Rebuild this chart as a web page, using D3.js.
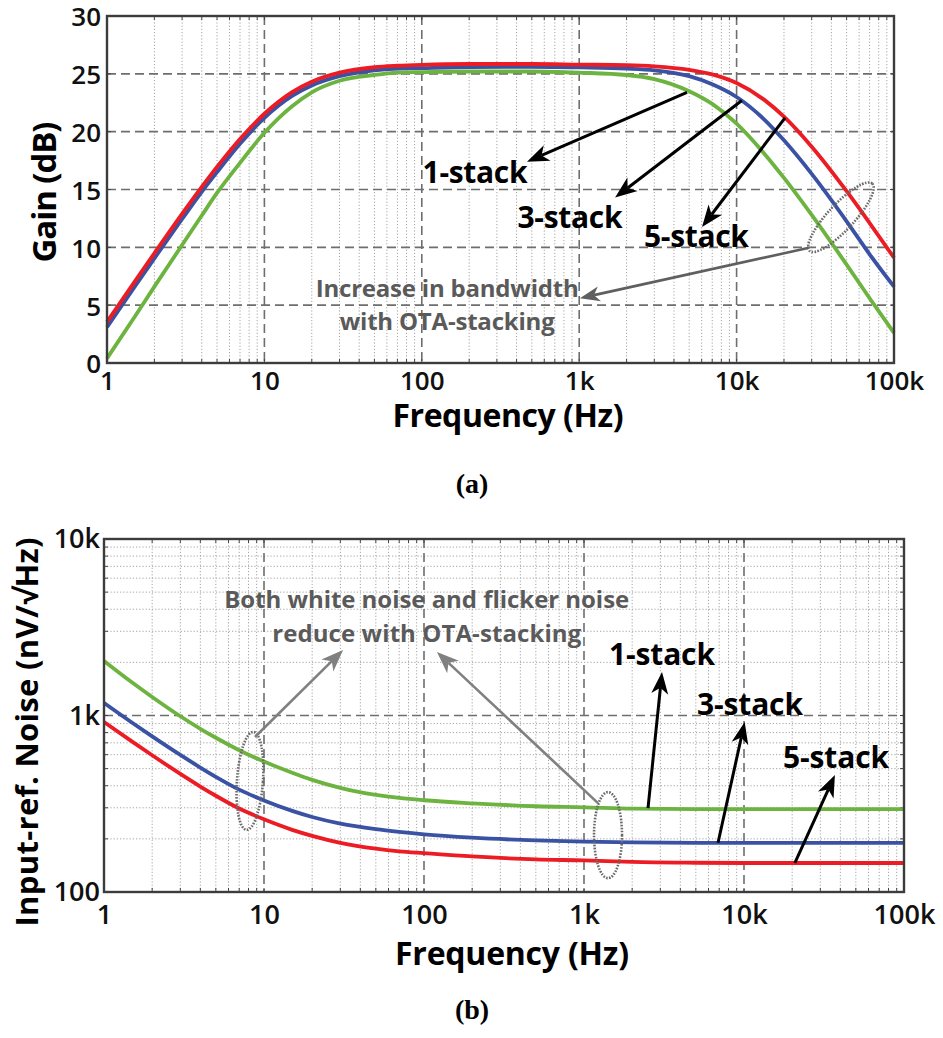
<!DOCTYPE html>
<html>
<head>
<meta charset="utf-8">
<script src="https://cdn.jsdelivr.net/npm/d3@7"></script>
<style>
  body { margin: 0; background: #fff; }
  text { font-family: "Open Sans", "Noto Sans", "DejaVu Sans", sans-serif; }
</style>
</head>
<body>
<script>
// ---- data: (a) gain ----
var gainFreq = [1, 1.5, 2, 3, 4, 5, 7, 10, 15, 20, 30, 50, 70, 100, 200, 500, 1000, 2000, 3000, 5000, 7000, 10000, 15000, 20000, 30000, 50000, 70000, 100000];
var gain1 = [0.4, 4.0, 6.6, 10.2, 12.75, 14.7, 17.3, 19.9, 22.2, 23.4, 24.4, 24.9, 25.1, 25.15, 25.2, 25.2, 25.1, 24.9, 24.55, 23.5, 22.4, 20.7, 18.1, 16.0, 12.8, 8.5, 5.6, 2.6];
var gain3 = [3.1, 6.6, 9.05, 12.45, 14.8, 16.5, 18.95, 21.2, 23.1, 24.0, 24.8, 25.3, 25.45, 25.5, 25.58, 25.6, 25.55, 25.45, 25.3, 24.8, 24.1, 23.0, 21.05, 19.25, 16.35, 12.25, 9.4, 6.6];
var gain5 = [3.55, 7.04, 9.49, 12.89, 15.22, 16.95, 19.37, 21.55, 23.42, 24.32, 25.1, 25.57, 25.7, 25.78, 25.85, 25.85, 25.8, 25.75, 25.65, 25.35, 24.95, 24.2, 22.75, 21.3, 18.7, 14.85, 12.1, 9.1];

// ---- data: (b) input-referred noise ----
var noiseFreq = [1, 1.5, 2, 3, 4, 5, 7, 10, 15, 20, 30, 50, 70, 100, 200, 500, 1000, 2000, 5000, 10000, 100000];
var noise1 = [2040, 1538, 1274, 990, 841, 748, 636, 548, 474, 432, 389, 355, 341, 331, 318, 306, 302, 297, 295, 295, 295];
var noise3 = [1178, 910, 762, 598, 507, 449, 380, 330, 288, 266, 244, 227, 219, 212, 203, 196, 193, 191, 190, 190, 190];
var noise5 = [919, 711, 595, 467, 396, 351, 297, 258, 225, 208, 190, 176, 170, 166, 159, 153, 151, 148, 146.5, 146, 146];

// ---- ticks ----
var freqTicks = [1, 10, 100, 1000, 10000, 100000];
var freqTickLabels = ["1", "10", "100", "1k", "10k", "100k"];
var gainTicks = [0, 5, 10, 15, 20, 25, 30];
var noiseTicks = [100, 1000, 10000];
var noiseTickLabels = ["100", "1k", "10k"];

var stackNames = ["1-stack", "3-stack", "5-stack"];
var colors = ["#6db33f", "#3a52a3", "#ec1c24"];

// annotation anchors, in data units
var gainArrowFrom = [[4840, 23.4], [10800, 22.7], [20300, 21.2]];
var gainArrowTo = [[466, 17.4], [1690, 14.3], [6030, 11.75]];
var gainLabelAt = [[218, 15.6], [874, 11.7], [5560, 10.0]];
var noiseArrowFrom = [[2512, 299], [6880, 190], [20800, 146]];
var noiseArrowTo = [[3073, 1762], [10100, 918], [37000, 460]];
var noiseLabelAt = [[3073, 1932], [10900, 1007], [37600, 505]];

var svg = d3.select("body").append("svg").attr("width", 943).attr("height", 1038);

// minor log positions 2..9 per decade
function logMinors(lo, hi) {
  var out = [];
  for (var d = lo; d < hi; d *= 10) {
    for (var k = 2; k <= 9; k++) out.push(d * k);
  }
  return out;
}

function vline(g, x, y0, y1, cls) {
  var l = g.append("line").attr("x1", x).attr("x2", x).attr("y1", y0).attr("y2", y1);
  styleGrid(l, cls);
}
function hline(g, y, x0, x1, cls) {
  var l = g.append("line").attr("x1", x0).attr("x2", x1).attr("y1", y).attr("y2", y);
  styleGrid(l, cls);
}
function styleGrid(l, cls) {
  if (cls === "major") {
    l.attr("stroke", "#6e6e6e").attr("stroke-width", 1.6).attr("stroke-dasharray", "9,5");
  } else {
    l.attr("stroke", "#a4a4a4").attr("stroke-width", 1).attr("stroke-dasharray", "1.2,2");
  }
}

function arrow(g, p1, p2, color, lw, hl, hw) {
  var dx = p2[0] - p1[0], dy = p2[1] - p1[1], len = Math.hypot(dx, dy);
  var ux = dx / len, uy = dy / len, nx = -uy, ny = ux;
  var bx = p2[0] - ux * hl, by = p2[1] - uy * hl;
  var mx = p2[0] - ux * hl * 0.72, my = p2[1] - uy * hl * 0.72;
  g.append("line")
    .attr("x1", p1[0]).attr("y1", p1[1]).attr("x2", mx).attr("y2", my)
    .attr("stroke", color).attr("stroke-width", lw);
  g.append("path")
    .attr("d", "M" + p2[0] + "," + p2[1] +
      "L" + (bx + nx * hw / 2) + "," + (by + ny * hw / 2) +
      "L" + mx + "," + my +
      "L" + (bx - nx * hw / 2) + "," + (by - ny * hw / 2) + "Z")
    .attr("fill", color);
}

function ellipse(g, c, rx, ry, rot) {
  g.append("ellipse")
    .attr("cx", c[0]).attr("cy", c[1]).attr("rx", rx).attr("ry", ry)
    .attr("transform", "rotate(" + rot + "," + c[0] + "," + c[1] + ")")
    .attr("fill", "none").attr("stroke", "#6a6a6a")
    .attr("stroke-width", 2.6).attr("stroke-dasharray", "1.6,1.4");
}

function frameTicks(g, x, y, xs, ys, len) {
  var x0 = x.range()[0], x1 = x.range()[1], y0 = y.range()[0], y1 = y.range()[1];
  xs.forEach(function (v) {
    g.append("line").attr("x1", x(v)).attr("x2", x(v)).attr("y1", y0).attr("y2", y0 - len).attr("stroke", "#444");
    g.append("line").attr("x1", x(v)).attr("x2", x(v)).attr("y1", y1).attr("y2", y1 + len).attr("stroke", "#444");
  });
  ys.forEach(function (v) {
    g.append("line").attr("x1", x0).attr("x2", x0 + len).attr("y1", y(v)).attr("y2", y(v)).attr("stroke", "#444");
    g.append("line").attr("x1", x1).attr("x2", x1 - len).attr("y1", y(v)).attr("y2", y(v)).attr("stroke", "#444");
  });
}

function styleAxis(ax, size) {
  ax.select(".domain").remove();
  ax.selectAll(".tick line").remove();
  ax.selectAll("text")
    .attr("fill", "#111")
    .style("font-size", size + "px")
    .style("font-weight", 600)
    .style("font-family", '"Open Sans", "Noto Sans", sans-serif');
}

// ================= (a) Gain =================
(function () {
  var g = svg.append("g");
  var x = d3.scaleLog().domain([1, 1e5]).range([107, 894]);
  var y = d3.scaleLinear().domain([0, 30]).range([363, 16]);

  logMinors(1, 1e5).forEach(function (v) { vline(g, x(v), 16, 363, "minor"); });
  freqTicks.slice(1, -1).forEach(function (v) { vline(g, x(v), 16, 363, "major"); });
  gainTicks.slice(1, -1).forEach(function (v) { hline(g, y(v), 107, 894, "major"); });
  frameTicks(g, x, y, logMinors(1, 1e5).concat(freqTicks), gainTicks, 4);

  var line = d3.line().x(function (d) { return x(d[0]); }).y(function (d) { return y(d[1]); }).curve(d3.curveMonotoneX);
  [gain1, gain3, gain5].forEach(function (s, i) {
    g.append("path")
      .datum(gainFreq.map(function (f, j) { return [f, s[j]]; }))
      .attr("d", line).attr("fill", "none")
      .attr("stroke", colors[i]).attr("stroke-width", 3.8)
      .attr("stroke-linejoin", "round");
  });

  g.append("rect").attr("x", 107).attr("y", 16).attr("width", 787).attr("height", 347)
    .attr("fill", "none").attr("stroke", "#3c3c3c").attr("stroke-width", 2.4);

  var ax = g.append("g").attr("transform", "translate(0,363)")
    .call(d3.axisBottom(x).tickValues(freqTicks).tickSize(0).tickPadding(9)
      .tickFormat(function (d, i) { return freqTickLabels[i]; }));
  styleAxis(ax, 26);
  var ay = g.append("g").attr("transform", "translate(107,0)")
    .call(d3.axisLeft(y).tickValues(gainTicks).tickSize(0).tickPadding(6));
  styleAxis(ay, 26);
  ay.selectAll("text").attr("dy", "0.38em");

  g.append("text").attr("x", 508).attr("y", 427).attr("text-anchor", "middle")
    .style("font-size", "32px").style("font-weight", 700).attr("textLength", 231)
    .text("Frequency (Hz)");
  g.append("text").attr("transform", "translate(44,192) rotate(-90)").attr("dy", "0.35em")
    .attr("text-anchor", "middle").style("font-size", "33px").style("font-weight", 700)
    .attr("textLength", 141).text("Gain (dB)");

  // annotations
  var P = function (d) { return [x(d[0]), y(d[1])]; };
  stackNames.forEach(function (n, i) {
    arrow(g, P(gainArrowFrom[i]), P(gainArrowTo[i]), "#000", 3, 22, 17);
    var at = P(gainLabelAt[i]);
    g.append("text").attr("x", at[0]).attr("y", at[1]).attr("text-anchor", "middle")
      .style("font-size", "30px").style("font-weight", 700).attr("textLength", 105).text(n);
  });
  ellipse(g, P([46000, 12.6]), 46, 13, -47);
  arrow(g, P([28400, 9.94]), P([1010, 5.6]), "#5f5f5f", 2.6, 20, 15);
  var t1 = P([145, 5.7]), t2 = P([145, 2.85]);
  g.append("text").attr("x", t1[0]).attr("y", t1[1]).attr("text-anchor", "middle").attr("fill", "#5a5a5a")
    .style("font-size", "24px").style("font-weight", 700).attr("textLength", 263).text("Increase in bandwidth");
  g.append("text").attr("x", t2[0]).attr("y", t2[1]).attr("text-anchor", "middle").attr("fill", "#5a5a5a")
    .style("font-size", "24px").style("font-weight", 700).attr("textLength", 215).text("with OTA-stacking");

  svg.append("text").attr("x", 472).attr("y", 493).attr("text-anchor", "middle")
    .style("font-family", '"Liberation Serif", "Times New Roman", serif')
    .style("font-size", "28px").style("font-weight", 700).text("(a)");
})();

// ================= (b) Noise =================
(function () {
  var g = svg.append("g");
  var x = d3.scaleLog().domain([1, 1e5]).range([104, 904]);
  var y = d3.scaleLog().domain([100, 10000]).range([892, 539]);

  logMinors(1, 1e5).forEach(function (v) { vline(g, x(v), 539, 892, "minor"); });
  logMinors(100, 10000).forEach(function (v) { hline(g, y(v), 104, 904, "minor"); });
  freqTicks.slice(1, -1).forEach(function (v) { vline(g, x(v), 539, 892, "major"); });
  noiseTicks.slice(1, -1).forEach(function (v) { hline(g, y(v), 104, 904, "major"); });
  frameTicks(g, x, y, logMinors(1, 1e5).concat(freqTicks), logMinors(100, 10000).concat(noiseTicks), 4);

  var line = d3.line().x(function (d) { return x(d[0]); }).y(function (d) { return y(d[1]); }).curve(d3.curveMonotoneX);
  [noise1, noise3, noise5].forEach(function (s, i) {
    g.append("path")
      .datum(noiseFreq.map(function (f, j) { return [f, s[j]]; }))
      .attr("d", line).attr("fill", "none")
      .attr("stroke", colors[i]).attr("stroke-width", 3.8)
      .attr("stroke-linejoin", "round");
  });

  g.append("rect").attr("x", 104).attr("y", 539).attr("width", 800).attr("height", 353)
    .attr("fill", "none").attr("stroke", "#3c3c3c").attr("stroke-width", 2.4);

  var ax = g.append("g").attr("transform", "translate(0,892)")
    .call(d3.axisBottom(x).tickValues(freqTicks).tickSize(0).tickPadding(13)
      .tickFormat(function (d, i) { return freqTickLabels[i]; }));
  styleAxis(ax, 27);
  var ay = g.append("g").attr("transform", "translate(104,0)")
    .call(d3.axisLeft(y).tickValues(noiseTicks).tickSize(0).tickPadding(4)
      .tickFormat(function (d, i) { return noiseTickLabels[i]; }));
  styleAxis(ay, 27);

  g.append("text").attr("x", 512).attr("y", 965).attr("text-anchor", "middle")
    .style("font-size", "32px").style("font-weight", 700).attr("textLength", 234)
    .text("Frequency (Hz)");
  g.append("text").attr("transform", "translate(27,732) rotate(-90)").attr("dy", "0.35em")
    .attr("text-anchor", "middle").style("font-size", "31px").style("font-weight", 700)
    .attr("textLength", 389).text("Input-ref. Noise (nV/\u221AHz)");

  var P = function (d) { return [x(d[0]), y(d[1])]; };
  ellipse(g, P([8.17, 426]), 13, 49, 4);
  ellipse(g, P([1413, 210]), 14, 43, 0);
  arrow(g, P([8.78, 755]), P([31.2, 2350]), "#808080", 2.6, 22, 17);
  arrow(g, P([1223, 319]), P([120.5, 2290]), "#808080", 2.6, 22, 17);
  var t1 = P([104, 4065]), t2 = P([104, 2606]);
  g.append("text").attr("x", t1[0]).attr("y", t1[1]).attr("text-anchor", "middle").attr("fill", "#5a5a5a")
    .style("font-size", "24px").style("font-weight", 700).attr("textLength", 405).text("Both white noise and flicker noise");
  g.append("text").attr("x", t2[0]).attr("y", t2[1]).attr("text-anchor", "middle").attr("fill", "#5a5a5a")
    .style("font-size", "24px").style("font-weight", 700).attr("textLength", 309).text("reduce with OTA-stacking");

  stackNames.forEach(function (n, i) {
    arrow(g, P(noiseArrowFrom[i]), P(noiseArrowTo[i]), "#000", 3, 22, 17);
    var at = P(noiseLabelAt[i]);
    g.append("text").attr("x", at[0]).attr("y", at[1]).attr("text-anchor", "middle")
      .style("font-size", "30px").style("font-weight", 700).attr("textLength", 106).text(n);
  });

  svg.append("text").attr("x", 472).attr("y", 1019).attr("text-anchor", "middle")
    .style("font-family", '"Liberation Serif", "Times New Roman", serif')
    .style("font-size", "28px").style("font-weight", 700).text("(b)");
})();
</script>
</body>
</html>
